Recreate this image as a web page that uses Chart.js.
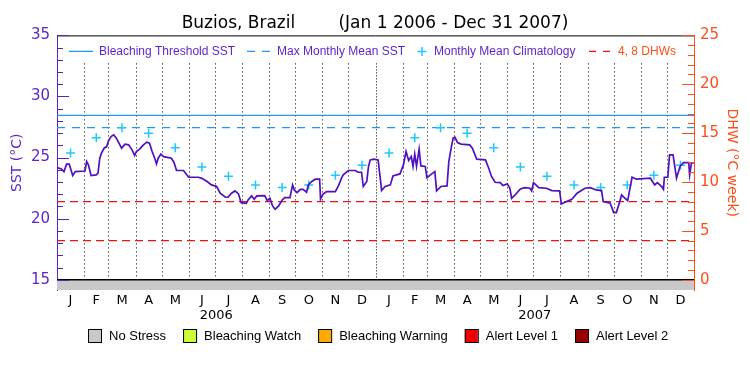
<!DOCTYPE html>
<html>
<head>
<meta charset="utf-8">
<script src="https://cdn.jsdelivr.net/npm/chart.js@4.4.0/dist/chart.umd.min.js"></script>
<style>
  html, body { margin: 0; padding: 0; background: #fff; }
</style>
</head>
<body>
<canvas id="chartCanvas" width="750" height="375"></canvas>
<script>
// ---- data ----
const monthLetters = ['J', 'F', 'M', 'A', 'M', 'J', 'J', 'A', 'S', 'O', 'N', 'D'];
const monthLengths = [31, 28, 31, 30, 31, 30, 31, 31, 30, 31, 30, 31];
const years = ['2006', '2007'];

// monthly mean climatology (°C), Jan..Dec
const climatology = [25.38, 26.62, 27.44, 27.0, 25.8, 24.22, 23.47, 22.75, 22.56, 22.75, 23.55, 24.37];
const bleachingThreshold = 28.45;
const maxMonthlyMean = 27.45;
const dhwLevels = [4, 8];

// SST, day since Jan 1 2006 / value
const sstDay = [0, 5, 8, 11, 14, 16, 18, 21, 32, 34, 36, 39, 45, 47, 49, 51, 54, 57, 59, 62,
  65, 68, 71, 74, 78, 82, 86, 89, 91, 95, 99, 103, 106, 109, 112, 114, 116, 119, 122, 128,
  131, 134, 137, 145, 148, 151, 162, 166, 172, 177, 183, 187, 193, 196, 200, 204, 208, 211, 217, 219,
  223, 226, 229, 238, 241, 244, 247, 250, 254, 258, 261, 267, 270, 272, 275, 279, 282, 286, 288, 292,
  296, 301, 302, 305, 309, 319, 323, 326, 328, 334, 342, 345, 349, 351, 355, 357, 359, 363, 368, 370,
  372, 376, 382, 385, 393, 397, 400, 403, 406, 408, 410, 412, 415, 417, 422, 424, 428, 433, 435, 440,
  447, 449, 452, 454, 456, 459, 463, 473, 476, 481, 491, 494, 498, 502, 508, 511, 516, 519, 521, 525,
  531, 536, 542, 544, 546, 550, 552, 561, 567, 576, 578, 584, 590, 596, 605, 611, 618, 624, 626, 634,
  638, 641, 645, 647, 651, 654, 659, 664, 680, 685, 688, 693, 695, 696, 700, 702, 706, 710, 714, 718,
  724, 725, 727, 730];
const sstValue = [24.18, 24.07, 23.85, 24.46, 24.46, 24.0, 23.53, 23.85, 23.9, 24.67, 24.4, 23.53, 23.58, 23.72, 24.95, 25.36, 25.77, 25.9, 26.37, 26.72,
  26.86, 26.59, 26.18, 25.77, 26.1, 26.04, 25.63, 25.17, 25.5, 25.71, 26.04, 26.26, 26.18, 25.5, 24.95, 24.48, 24.95, 25.28, 25.08, 25.0,
  24.95, 24.62, 23.94, 23.94, 23.66, 23.39, 23.39, 23.3, 23.04, 22.76, 22.63, 22.08, 21.75, 21.75, 22.08, 22.27, 22.02, 21.31, 21.26, 21.53,
  21.86, 21.59, 21.86, 21.89, 21.48, 21.67, 21.04, 20.77, 21.04, 21.53, 21.72, 21.72, 22.76, 22.35, 22.13, 22.4, 22.4, 22.16, 22.76, 23.04,
  23.23, 23.23, 21.59, 22.02, 22.22, 22.22, 22.76, 23.31, 23.58, 23.94, 23.94, 23.8, 23.8, 22.63, 23.04, 24.27, 24.81, 24.87, 24.81, 23.58,
  22.3, 22.63, 22.76, 23.5, 23.66, 24.4, 25.5, 24.76, 25.08, 24.27, 25.28, 24.27, 25.69, 24.32, 24.27, 23.36, 23.58, 23.85, 22.27, 22.63,
  22.68, 24.67, 25.9, 26.59, 26.67, 26.23, 26.1, 26.04, 25.77, 24.87, 24.81, 24.27, 23.45, 22.98, 22.95, 22.71, 22.85, 22.49, 21.67, 21.94,
  22.43, 22.54, 22.49, 22.27, 22.95, 22.68, 22.54, 22.49, 22.3, 22.27, 21.2, 21.4, 21.59, 22.08, 22.49, 22.54, 22.35, 22.3, 21.4, 21.26,
  20.5, 20.5, 21.4, 21.94, 21.67, 21.48, 23.39, 23.23, 23.31, 22.76, 22.95, 22.63, 22.4, 23.39, 23.39, 25.22, 25.22, 23.31, 24.27, 24.59,
  24.59, 23.58, 24.54, 24.59];

const stressNames = ['No Stress', 'Bleaching Watch', 'Bleaching Warning', 'Alert Level 1', 'Alert Level 2'];
const stressColors = ['#c8c8c8', '#ccff33', '#ffaa00', '#f00000', '#960000'];
const legendLabels = ['Bleaching Threshold SST', 'Max Monthly Mean SST', 'Monthly Mean Climatology', '4, 8 DHWs'];

// ---- derived positions on the day axis ----
const monthStarts = [];
const monthMids = [];
let acc = 0;
years.forEach(() => {
  monthLengths.forEach(len => {
    monthStarts.push(acc);
    monthMids.push(acc + len / 2);
    acc += len;
  });
});
const totalDays = acc;
const yearMids = years.map((y, i) => i * 365 + 182.5);

const sstMin = 14.16, sstMax = 35;
const dhwMin = (sstMin - 15) * 1.25, dhwMax = 25;

const purple = '#5b1fcc';
const lineColor = '#5010c0';
const blue = '#1e96ff';
const cyan = '#1ec8ff';
const red = '#f01010';
const orange = '#ff4d1a';
const font = 'DejaVu Sans';

const decorations = {
  id: 'decorations',
  beforeDatasetsDraw(chart) {
    const { ctx, chartArea: a, scales } = chart;
    ctx.save();
    ctx.strokeStyle = '#000';
    ctx.lineWidth = 1;
    monthStarts.forEach((d, i) => {
      if (i === 0) return;
      const px = Math.round(scales.x.getPixelForValue(d)) + 0.5;
      ctx.setLineDash(d === 365 ? [1, 2] : [1, 3]);
      ctx.beginPath();
      ctx.moveTo(px, a.top + 28);
      ctx.lineTo(px, scales.y.getPixelForValue(15));
      ctx.stroke();
    });
    ctx.restore();
  },
  afterDraw(chart) {
    const { ctx, chartArea: a, scales } = chart;
    ctx.save();
    ctx.lineWidth = 1;
    // top frame
    ctx.strokeStyle = '#000';
    ctx.beginPath();
    ctx.moveTo(a.left, a.top + 0.5);
    ctx.lineTo(a.right, a.top + 0.5);
    ctx.stroke();
    // inward ticks, left (SST) and right (DHW)
    ctx.strokeStyle = purple;
    for (let v = 15; v <= 35; v++) {
      const py = Math.round(scales.y.getPixelForValue(v)) + 0.5;
      const len = v % 5 === 0 ? 12 : 6;
      ctx.beginPath(); ctx.moveTo(a.left, py); ctx.lineTo(a.left + len, py); ctx.stroke();
    }
    ctx.strokeStyle = orange;
    for (let v = 0; v <= 25; v++) {
      const py = Math.round(scales.y2.getPixelForValue(v)) + 0.5;
      const len = v % 5 === 0 ? 12 : 6;
      ctx.beginPath(); ctx.moveTo(a.right - len, py); ctx.lineTo(a.right, py); ctx.stroke();
    }

    // legend inside the plot
    const ly = a.top + 16;
    ctx.font = '12px "Liberation Sans"';
    ctx.textBaseline = 'middle';
    const seg = (x0, x1, color, dash) => {
      ctx.strokeStyle = color; ctx.lineWidth = 1.3; ctx.setLineDash(dash);
      ctx.beginPath(); ctx.moveTo(x0, ly); ctx.lineTo(x1, ly); ctx.stroke();
      ctx.setLineDash([]);
    };
    seg(69, 93, blue, []);
    ctx.fillStyle = purple; ctx.fillText(legendLabels[0], 99, ly);
    seg(247, 271, blue, [8, 7]);
    ctx.fillText(legendLabels[1], 277, ly);
    ctx.strokeStyle = cyan; ctx.lineWidth = 1.5;
    ctx.beginPath();
    ctx.moveTo(417.5, ly); ctx.lineTo(426.5, ly);
    ctx.moveTo(422, ly - 4.5); ctx.lineTo(422, ly + 4.5);
    ctx.stroke();
    ctx.fillText(legendLabels[2], 434, ly);
    seg(589, 611, red, [7, 7]);
    ctx.fillStyle = orange; ctx.fillText(legendLabels[3], 618, ly);

    // stress legend below the axes
    ctx.font = '13px "Liberation Sans"';
    let bx = 88;
    const by = 329.5;
    stressNames.forEach((name, i) => {
      ctx.fillStyle = stressColors[i];
      ctx.fillRect(bx, by, 13, 13);
      ctx.strokeStyle = '#000'; ctx.lineWidth = 1;
      ctx.strokeRect(bx + 0.5, by, 13, 13);
      ctx.fillStyle = '#000';
      ctx.fillText(name, bx + 21, by + 7);
      bx += 21 + ctx.measureText(name).width + 17;
    });
    ctx.restore();
  }
};

const flat = (v) => [{ x: 0, y: v }, { x: totalDays, y: v }];

new Chart(document.getElementById('chartCanvas').getContext('2d'), {
  type: 'line',
  data: {
    datasets: [
      {
        label: 'SST',
        data: sstDay.map((d, i) => ({ x: d, y: sstValue[i] })),
        borderColor: lineColor,
        borderWidth: 1.7,
        pointRadius: 0,
        tension: 0,
        order: 1
      },
      {
        label: legendLabels[2],
        type: 'scatter',
        data: monthMids.map((d, i) => ({ x: d, y: climatology[i % 12] })),
        pointStyle: 'cross',
        pointRadius: 4.5,
        borderColor: cyan,
        backgroundColor: cyan,
        borderWidth: 1.5,
        order: 2
      },
      {
        label: legendLabels[0],
        data: flat(bleachingThreshold),
        borderColor: blue,
        borderWidth: 1.4,
        pointRadius: 0,
        order: 3
      },
      {
        label: legendLabels[1],
        data: flat(maxMonthlyMean),
        borderColor: blue,
        borderWidth: 1.4,
        borderDash: [8, 7],
        pointRadius: 0,
        order: 3
      },
      ...dhwLevels.map(v => ({
        label: legendLabels[3],
        data: flat(v),
        yAxisID: 'y2',
        borderColor: red,
        borderWidth: 1.3,
        borderDash: [8, 5],
        pointRadius: 0,
        order: 4
      })),
      {
        label: stressNames[0],
        data: flat(15),
        borderColor: '#000',
        borderWidth: 1.5,
        backgroundColor: stressColors[0],
        fill: 'start',
        pointRadius: 0,
        order: 5
      }
    ]
  },
  options: {
    responsive: false,
    animation: false,
    devicePixelRatio: 1,
    layout: { padding: { left: 0, right: 0, top: 0, bottom: 49 } },
    plugins: {
      legend: { display: false },
      tooltip: { enabled: false },
      title: {
        display: true,
        text: 'Buzios, Brazil        (Jan 1 2006 - Dec 31 2007)',
        color: '#000',
        font: { family: font, size: 17, weight: 'normal' },
        padding: { top: 13, bottom: 2 }
      }
    },
    scales: {
      x: {
        type: 'linear', position: 'bottom', min: 0, max: totalDays,
        afterBuildTicks: s => { s.ticks = monthMids.map(v => ({ value: v })); },
        afterFit: s => { s.height = 18; },
        ticks: {
          autoSkip: false, maxRotation: 0, minRotation: 0, padding: 3, color: '#000',
          font: { family: font, size: 13 },
          callback: (v, i) => monthLetters[i % 12]
        },
        grid: { display: false, drawTicks: false },
        border: { display: false }
      },
      xYear: {
        type: 'linear', position: 'bottom', min: 0, max: totalDays,
        afterBuildTicks: s => { s.ticks = yearMids.map(v => ({ value: v })); },
        afterFit: s => { s.height = 18; },
        ticks: {
          autoSkip: false, maxRotation: 0, minRotation: 0, padding: 0, color: '#000',
          font: { family: font, size: 13 },
          callback: (v, i) => years[i]
        },
        grid: { display: false, drawTicks: false },
        border: { display: false }
      },
      y: {
        type: 'linear', position: 'left', min: sstMin, max: sstMax,
        afterBuildTicks: s => { s.ticks = [15, 20, 25, 30, 35].map(v => ({ value: v })); },
        afterFit: s => { s.width = 57; },
        ticks: { color: purple, padding: 7, font: { family: font, size: 15 } },
        grid: { display: false, drawTicks: false },
        border: { display: true, color: purple, width: 1 },
        title: {
          display: true, text: 'SST (°C)', color: purple,
          font: { family: font, size: 14 }, padding: { top: 9, bottom: 0 }
        }
      },
      y2: {
        type: 'linear', position: 'right', min: dhwMin, max: dhwMax,
        afterBuildTicks: s => { s.ticks = [0, 5, 10, 15, 20, 25].map(v => ({ value: v })); },
        afterFit: s => { s.width = 56; },
        ticks: { color: orange, padding: 6, font: { family: font, size: 15 } },
        grid: { display: false, drawTicks: false },
        border: { display: true, color: orange, width: 1 },
        title: {
          display: true, text: 'DHW (°C week)', color: orange,
          font: { family: font, size: 14 }, padding: { top: 10, bottom: 0 }
        }
      }
    }
  },
  plugins: [decorations]
});
</script>
</body>
</html>
